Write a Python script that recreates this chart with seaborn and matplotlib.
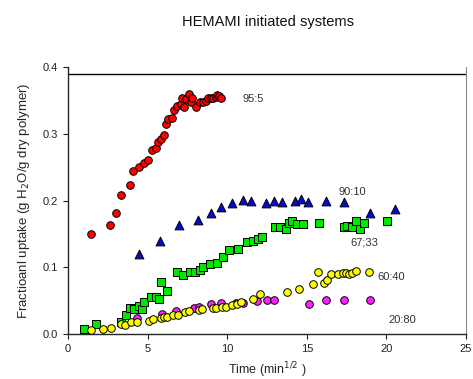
import numpy as np
import pandas as pd
import matplotlib
matplotlib.use("Agg")
import matplotlib.pyplot as plt
import seaborn as sns

# 95:5
x_955 = [1.42, 2.66, 2.99, 3.31, 3.87, 4.10, 4.48, 4.79, 5.00, 5.30, 5.51, 5.67, 5.86, 6.03,
         6.16, 6.28, 6.51, 6.66, 6.87, 7.08, 7.14, 7.31, 7.41, 7.58, 7.70, 7.81, 8.02, 8.31,
         8.46, 8.65, 8.79, 8.98, 9.13, 9.28, 9.38, 9.50, 9.59]
y_955 = [0.150, 0.163, 0.181, 0.209, 0.223, 0.245, 0.250, 0.257, 0.261, 0.276, 0.279, 0.287,
         0.292, 0.298, 0.314, 0.322, 0.323, 0.336, 0.341, 0.345, 0.353, 0.340, 0.352, 0.360,
         0.348, 0.353, 0.340, 0.348, 0.347, 0.349, 0.353, 0.354, 0.353, 0.355, 0.358, 0.356,
         0.353]

# 90:10
x_9010 = [4.48, 5.76, 6.95, 8.17, 8.96, 9.59, 10.30, 10.97, 11.49, 12.42, 12.94, 13.46,
          14.26, 14.64, 15.10, 16.21, 17.32, 18.99, 20.52]
y_9010 = [0.120, 0.140, 0.164, 0.171, 0.181, 0.190, 0.197, 0.201, 0.200, 0.197, 0.200, 0.198,
          0.200, 0.202, 0.198, 0.200, 0.198, 0.181, 0.188]

# 67;33
x_6733 = [1.00, 1.76, 3.31, 3.62, 3.89, 4.15, 4.48, 4.63, 4.79, 5.19, 5.51, 5.70, 5.86, 6.20,
          6.85, 7.20, 7.66, 8.00, 8.29, 8.50, 8.94, 9.38, 9.76, 10.11, 10.70, 11.26, 11.60,
          11.95, 12.20, 13.03, 13.32, 13.67, 13.86, 14.05, 14.41, 14.78, 15.75, 17.34, 17.54,
          17.82, 18.07, 18.36, 18.61, 20.06]
y_6733 = [0.0075, 0.0155, 0.0175, 0.028, 0.039, 0.037, 0.042, 0.037, 0.048, 0.055, 0.055,
          0.052, 0.078, 0.064, 0.093, 0.089, 0.093, 0.093, 0.096, 0.100, 0.105, 0.107, 0.115,
          0.126, 0.128, 0.138, 0.139, 0.142, 0.146, 0.161, 0.161, 0.158, 0.167, 0.170, 0.165,
          0.165, 0.167, 0.161, 0.162, 0.161, 0.169, 0.158, 0.167, 0.169]

# 60:40
x_6040 = [1.42, 2.22, 2.68, 3.33, 3.60, 3.98, 4.35, 5.09, 5.32, 5.84, 6.03, 6.24, 6.62, 6.93,
          7.35, 7.62, 8.25, 8.40, 9.13, 9.28, 9.69, 9.91, 10.28, 10.60, 10.87, 11.60, 12.06,
          13.74, 14.51, 15.41, 15.72, 16.10, 16.29, 16.50, 16.96, 17.25, 17.44, 17.63, 17.84,
          18.11, 18.93]
y_6040 = [0.0055, 0.007, 0.0085, 0.0155, 0.014, 0.0175, 0.0175, 0.0195, 0.023, 0.0245, 0.025,
          0.026, 0.028, 0.0285, 0.033, 0.034, 0.036, 0.037, 0.0385, 0.039, 0.041, 0.041, 0.043,
          0.045, 0.048, 0.053, 0.060, 0.0635, 0.0675, 0.075, 0.0935, 0.076, 0.081, 0.0895,
          0.090, 0.092, 0.092, 0.090, 0.092, 0.094, 0.0935]

# 20:80
x_2080 = [4.35, 5.92, 6.80, 7.90, 8.25, 8.96, 9.63, 10.53, 11.01, 11.85, 12.48, 12.94, 15.16,
          16.21, 17.34, 18.95]
y_2080 = [0.024, 0.030, 0.0345, 0.0385, 0.041, 0.045, 0.047, 0.046, 0.046, 0.049, 0.051,
          0.051, 0.0445, 0.0515, 0.0505, 0.0515]

series = [
    ("95:5", x_955, y_955, "#FF0000", "o", 30, (10.99, 0.352)),
    ("90:10", x_9010, y_9010, "#0A0ACC", "^", 40, (16.96, 0.213)),
    ("67;33", x_6733, y_6733, "#00E600", "s", 28, (17.75, 0.137)),
    ("20:80", x_2080, y_2080, "#FF22FF", "o", 30, (20.14, 0.021)),
    ("60:40", x_6040, y_6040, "#FFFF00", "o", 30, (19.43, 0.085)),
]

sns.set_style("ticks")
plt.rcParams["font.family"] = ["Liberation Sans", "DejaVu Sans"]

fig = plt.figure(figsize=(4.73, 3.79), dpi=100)
ax = fig.add_axes([0.1438, 0.1187, 0.8414, 0.7043])

for name, xs, ys, col, mk, sz, lab in series:
    df = pd.DataFrame({"x": xs, "y": ys})
    sns.scatterplot(data=df, x="x", y="y", ax=ax, color=col, marker=mk, s=sz,
                    edgecolor="black", linewidth=0.7, zorder=3)
    ax.text(lab[0], lab[1], name, fontsize=8, color="#333333", va="center", ha="left")

ax.set_xlim(0, 25)
ax.set_ylim(0, 0.4)
ax.set_xticks([0, 5, 10, 15, 20, 25])
ax.set_yticks([0.0, 0.1, 0.2, 0.3, 0.4])
ax.set_yticklabels(["0.0", "0.1", "0.2", "0.3", "0.4"])
ax.tick_params(direction="out", length=3.5, width=0.8, labelsize=8, colors="#222222")
ax.axhline(0.389, color="black", lw=1)

ax.spines["top"].set_visible(False)
ax.spines["right"].set_color("#888888")
ax.spines["left"].set_linewidth(1)
ax.spines["bottom"].set_linewidth(1)

ax.set_xlabel("Time (min$^{1/2}$ )", fontsize=9, labelpad=5)
ax.set_ylabel("Fractioanl uptake (g H$_2$O/g dry polymer)", fontsize=9.5, labelpad=8)
fig.text(0.566, 0.942, "HEMAMI initiated systems", fontsize=10.5, ha="center", va="center",
         color="#111111")

fig.savefig("out.png", dpi=100)
